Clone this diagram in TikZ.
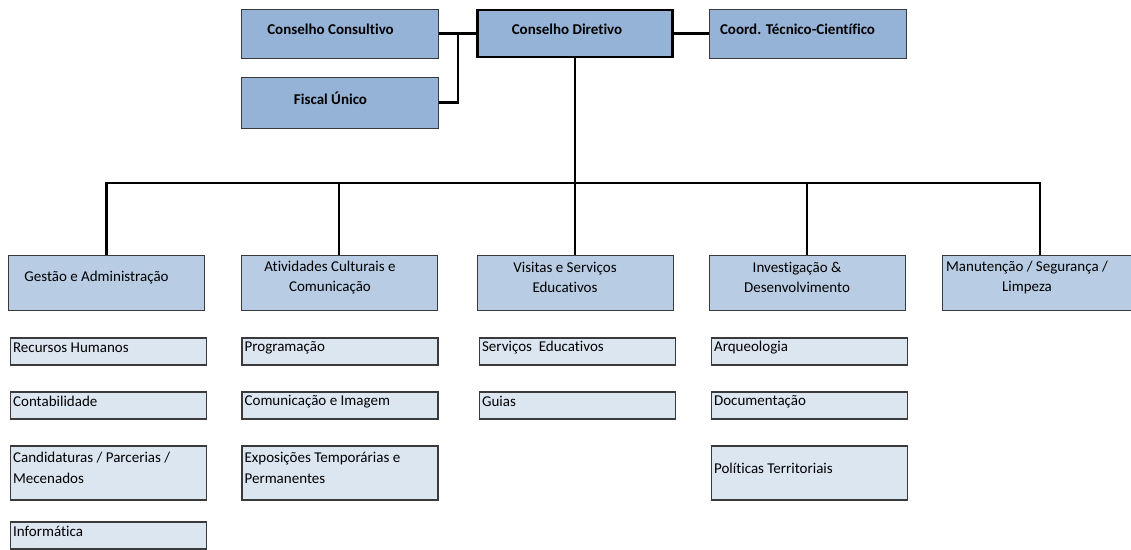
\documentclass[tikz,border=0pt]{standalone}
\usepackage{fontspec}
\setmainfont{Carlito}[Ligatures=NoCommon]
\usetikzlibrary{calc}
\definecolor{topfill}{HTML}{95B3D7}
\definecolor{depfill}{HTML}{B8CCE4}
\definecolor{subfill}{HTML}{DCE6F1}
\definecolor{edge}{HTML}{3A3A3A}
\tikzset{
  box/.style={draw=edge, line width=1pt, inner sep=0pt, anchor=center, minimum width=197pt},
  topbox/.style={box, fill=topfill, minimum height=49pt},
  headbox/.style={topbox, draw=black, line width=2.4pt, minimum width=195pt, minimum height=47pt},
  depbox/.style={box, fill=depfill, minimum width=196pt, minimum height=55pt},
  subbox/.style={box, fill=subfill, line width=1.2pt, minimum width=196pt, minimum height=27pt},
  subboxtall/.style={subbox, minimum height=54pt},
  txt/.style={inner sep=0pt, font=\fontsize{15}{20}\selectfont, align=center},
  btxt/.style={txt, font=\fontsize{15}{20}\selectfont\bfseries},
  ltxt/.style={inner sep=0pt, font=\fontsize{15}{21}\selectfont, align=left},
  link/.style={draw=black, line width=2.2pt}
}
\begin{document}
\begin{tikzpicture}[x=1pt, y=-1pt]
\useasboundingbox (0,0) rectangle (1131,549);

% top level
\node[topbox] (cc) at (339.5,33.5) {};
\node[headbox] (cd) at (575,33.5) {};
\node[topbox] (ct) at (807.5,33.5) {};
\node[topbox, minimum height=51pt] (fu) at (339.5,102.5) {};
\node[btxt] (ccT) at ($(cc)+(-9,-4)$) {Conselho Consultivo};
\node[btxt] (cdT) at ($(cd)+(-8,-4)$) {Conselho Diretivo};
\node[btxt] (ctT) at ($(ct)+(-10,-4)$) {Coord. Técnico-Científico};
\node[btxt] (fuT) at ($(fu)+(-9,-4)$) {Fiscal Único};

% departments
\node[depbox] (ga) at (106.5,282.5) {};
\node[depbox] (ac) at (339,282.5) {};
\node[depbox] (vs) at (575,282.5) {};
\node[depbox] (id) at (807,282.5) {};
\node[depbox] (mt) at (1040,282.5) {};
\node[txt] (gaT) at ($(ga)+(-10,-5)$) {Gestão e Administração};
\node[txt] (acT) at ($(ac)+(-9,-5)$) {Atividades Culturais e\\Comunicação};
\node[txt] (vsT) at ($(vs)+(-10,-5)$) {Visitas e Serviços\\Educativos};
\node[txt] (idT) at ($(id)+(-10,-5)$) {Investigação \&\\Desenvolvimento};
\node[txt] (mtT) at ($(mt)+(-13,-5)$) {Manutenção / Segurança /\\Limpeza};

% connectors
\coordinate (j1) at (458,33.5);
\coordinate (bus) at (575,183);
\draw[link] (cc.east) -- (cd.west);
\draw[link] (fu.east) -| (j1);
\draw[link] (cd.east) -- (ct.west);
\draw[link] (cd.south) -- (bus);
\draw[link] (ga.north) |- (bus);
\draw[link] (ac.north) |- (bus);
\draw[link] (vs.north) -- (bus);
\draw[link] (id.north) |- (bus);
\draw[link] (mt.north) |- (bus);

% column 1
\node[subbox] (rh) at (108.5,351.5) {};
\node[subbox] (co) at (108.5,405.5) {};
\node[subboxtall] (cp) at (108.5,473) {};
\node[subbox] (in) at (108.5,535.5) {};
\node[ltxt, anchor=west] (rhT) at ($(rh.west)+(3,-4)$) {Recursos Humanos};
\node[ltxt, anchor=west] (coT) at ($(co.west)+(3,-4)$) {Contabilidade};
\node[ltxt, anchor=west] (cpT) at ($(cp.west)+(3,-5.5)$) {Candidaturas / Parcerias /\\Mecenados};
\node[ltxt, anchor=west] (inT) at ($(in.west)+(3,-4)$) {Informática};

% column 2
\node[subbox] (pr) at (340,351.5) {};
\node[subbox] (ci) at (340,405.5) {};
\node[subboxtall] (ex) at (340,473) {};
\node[ltxt, anchor=west] (prT) at ($(pr.west)+(3,-4)$) {Programação};
\node[ltxt, anchor=west] (ciT) at ($(ci.west)+(3,-4)$) {Comunicação e Imagem};
\node[ltxt, anchor=west] (exT) at ($(ex.west)+(3,-5.5)$) {Exposições Temporárias e\\Permanentes};

% column 3
\node[subbox] (se) at (577.5,351.5) {};
\node[subbox] (gu) at (577.5,405.5) {};
\node[ltxt, anchor=west] (seT) at ($(se.west)+(3,-4)$) {Serviços\ \ Educativos};
\node[ltxt, anchor=west] (guT) at ($(gu.west)+(3,-4)$) {Guias};

% column 4
\node[subbox] (ar) at (809.5,351.5) {};
\node[subbox] (dc) at (809.5,405.5) {};
\node[subboxtall] (pt) at (809.5,473) {};
\node[ltxt, anchor=west] (arT) at ($(ar.west)+(3,-4)$) {Arqueologia};
\node[ltxt, anchor=west] (dcT) at ($(dc.west)+(3,-4)$) {Documentação};
\node[ltxt, anchor=west] (ptT) at ($(pt.west)+(3,-5)$) {Políticas Territoriais};
\end{tikzpicture}
\end{document}
